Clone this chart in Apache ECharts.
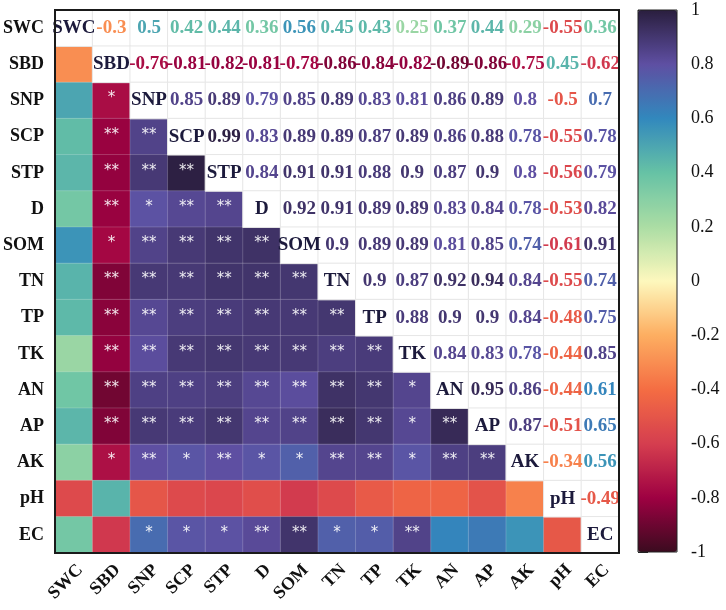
<!DOCTYPE html>
<html>
<head>
<meta charset="utf-8">
<script src="https://cdn.jsdelivr.net/npm/echarts@6/dist/echarts.min.js"></script>
<style>
  html, body { margin: 0; padding: 0; background: #fff; }
  #main { width: 726px; height: 610px; }
</style>
</head>
<body>
<div id="main"></div>
<script>
// variable names
var names = ['SWC', 'SBD', 'SNP', 'SCP', 'STP', 'D', 'SOM', 'TN', 'TP', 'TK', 'AN', 'AP', 'AK', 'pH', 'EC'];

// upper triangle, row i holds r(i, j) for j > i
var corrRows = [
    [-0.3, 0.5, 0.42, 0.44, 0.36, 0.56, 0.45, 0.43, 0.25, 0.37, 0.44, 0.29, -0.55, 0.36],
    [-0.76, -0.81, -0.82, -0.81, -0.78, -0.86, -0.84, -0.82, -0.89, -0.86, -0.75, 0.45, -0.62],
    [0.85, 0.89, 0.79, 0.85, 0.89, 0.83, 0.81, 0.86, 0.89, 0.8, -0.5, 0.7],
    [0.99, 0.83, 0.89, 0.89, 0.87, 0.89, 0.86, 0.88, 0.78, -0.55, 0.78],
    [0.84, 0.91, 0.91, 0.88, 0.9, 0.87, 0.9, 0.8, -0.56, 0.79],
    [0.92, 0.91, 0.89, 0.89, 0.83, 0.84, 0.78, -0.53, 0.82],
    [0.9, 0.89, 0.89, 0.81, 0.85, 0.74, -0.61, 0.91],
    [0.9, 0.87, 0.92, 0.94, 0.84, -0.55, 0.74],
    [0.88, 0.9, 0.9, 0.84, -0.48, 0.75],
    [0.84, 0.83, 0.78, -0.44, 0.85],
    [0.95, 0.86, -0.44, 0.61],
    [0.87, -0.51, 0.65],
    [-0.34, 0.56],
    [-0.49],
    []
];

// lower triangle significance marks, row i holds cols 0..i-1
var starRows = [
    [],
    [''],
    ['', '*'],
    ['', '**', '**'],
    ['', '**', '**', '**'],
    ['', '**', '*', '**', '**'],
    ['', '*', '**', '**', '**', '**'],
    ['', '**', '**', '**', '**', '**', '**'],
    ['', '**', '**', '**', '**', '**', '**', '**'],
    ['', '**', '**', '**', '**', '**', '**', '**', '**'],
    ['', '**', '**', '**', '**', '**', '**', '**', '**', '*'],
    ['', '**', '**', '**', '**', '**', '**', '**', '**', '*', '**'],
    ['', '*', '**', '*', '**', '*', '*', '**', '**', '*', '**', '**'],
    ['', '', '', '', '', '', '', '', '', '', '', '', ''],
    ['', '', '*', '*', '*', '**', '**', '*', '*', '**', '', '', '', '']
];

var palette = ['#3b0b1f', '#9e0142', '#d53e4f', '#f46d43', '#fdae61', '#fdf8bd',
               '#abdda4', '#66c2a5', '#3288bd', '#5e4fa2', '#2a1e3e'];

function corr(i, j) {
    if (i === j) return 1;
    if (i > j) { var t = i; i = j; j = t; }
    return corrRows[i][j - i - 1];
}

var serif = "'Liberation Serif', 'Times New Roman', serif";
var lower = [], upper = [];
for (var i = 0; i < names.length; i++) {
    for (var j = 0; j < names.length; j++) {
        if (j < i) {
            lower.push({ value: [j, i, corr(i, j)], stars: starRows[i][j] });
        } else if (j === i) {
            upper.push({ value: [j, i, 1], label: { formatter: names[i], color: '#1c1a3c' } });
        } else {
            var v = corr(i, j);
            upper.push({
                value: [j, i, v],
                label: { formatter: String(v), color: echarts.color.lerp((v + 1) / 2, palette) }
            });
        }
    }
}

var ec = echarts.init(document.getElementById('main'));
ec.setOption({
    animation: false,
    grid: [
        { left: 53, top: 10, width: 566, height: 543, show: true, z: 5,
          borderColor: '#1a1a1a', borderWidth: 2, backgroundColor: 'transparent' },
        { left: 638, top: 10, width: 39, height: 542, show: true, z: 5,
          borderColor: '#222', borderWidth: 1, backgroundColor: 'transparent' }
    ],
    xAxis: [
        {
            type: 'category', data: names, gridIndex: 0,
            axisLine: { show: false }, axisTick: { show: false }, splitLine: { show: false },
            axisLabel: { rotate: 45, margin: 8, verticalAlign: 'top', fontFamily: serif,
                         fontWeight: 'bold', fontSize: 18, color: '#111' }
        },
        { type: 'value', gridIndex: 1, show: false, min: 0, max: 1 }
    ],
    yAxis: [
        {
            type: 'category', data: names, inverse: true, gridIndex: 0,
            axisLine: { show: false }, axisTick: { show: false }, splitLine: { show: false },
            axisLabel: { margin: 11, fontFamily: serif, fontWeight: 'bold', fontSize: 18, color: '#111' }
        },
        {
            type: 'value', gridIndex: 1, position: 'right', min: -1, max: 1, interval: 0.2,
            axisLine: { show: false }, splitLine: { show: false },
            axisTick: { show: true, length: 10, lineStyle: { color: '#222', width: 1 } },
            axisLabel: { margin: 14, fontFamily: serif, fontSize: 18, color: '#111' }
        }
    ],
    visualMap: {
        type: 'continuous', min: -1, max: 1, seriesIndex: 0,
        calculable: false, left: 638, top: 10, padding: 0,
        itemWidth: 39, itemHeight: 542,
        inRange: { color: palette }
    },
    series: [
        {
            type: 'heatmap', data: lower,
            itemStyle: { borderColor: 'rgba(255,255,255,0.3)', borderWidth: 0.6 },
            label: {
                show: true, color: 'rgba(255,255,255,0.9)', fontSize: 15,
                fontFamily: 'DejaVu Sans', offset: [0, -2],
                formatter: function (p) { return p.data.stars; }
            },
            emphasis: { disabled: true }
        },
        {
            type: 'heatmap', data: upper,
            itemStyle: { color: '#fff', borderColor: '#e6e6e6', borderWidth: 1 },
            label: { show: true, fontFamily: serif, fontWeight: 'bold', fontSize: 19 },
            emphasis: { disabled: true }
        }
    ]
});
</script>
</body>
</html>
